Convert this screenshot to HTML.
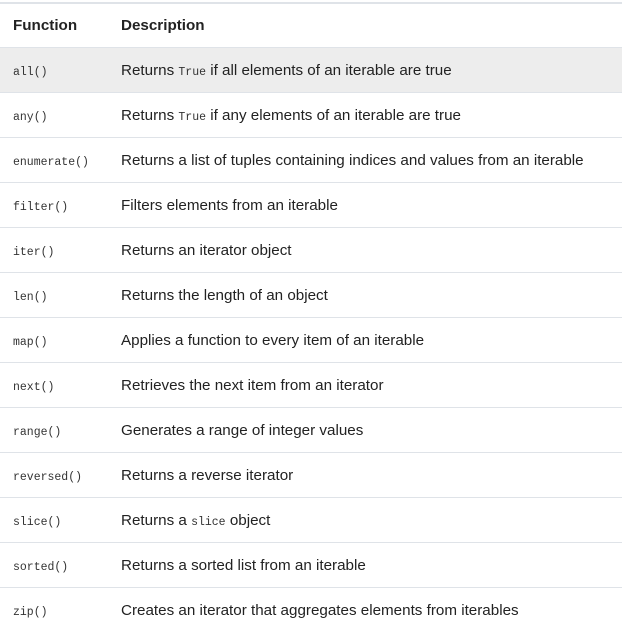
<!DOCTYPE html>
<html><head><style>
body{margin:0;background:#fff;width:628px;height:635px;overflow:hidden}
.t{position:absolute;left:0;top:2px;width:622px;border-top:2px solid #dfe3e8}
.r{position:relative;height:44px;border-bottom:1px solid #dfe3e8;font-family:"Liberation Sans",sans-serif;font-size:15.2px;color:#222;line-height:45px}
.r.h{font-weight:bold;height:43px;line-height:43px}
.r.g{background:#ededed}
.r:last-child{border-bottom:none}
.a{position:absolute;left:13px}
.b{position:absolute;left:121px;white-space:nowrap}
code{font-family:"Liberation Mono",monospace;font-size:11.5px;color:#333}
</style></head><body>
<div class="t">
<div class="r h"><span class="a">Function</span><span class="b">Description</span></div>
<div class="r g"><span class="a"><code>all()</code></span><span class="b">Returns <code>True</code> if all elements of an iterable are true</span></div>
<div class="r"><span class="a"><code>any()</code></span><span class="b">Returns <code>True</code> if any elements of an iterable are true</span></div>
<div class="r"><span class="a"><code>enumerate()</code></span><span class="b">Returns a list of tuples containing indices and values from an iterable</span></div>
<div class="r"><span class="a"><code>filter()</code></span><span class="b">Filters elements from an iterable</span></div>
<div class="r"><span class="a"><code>iter()</code></span><span class="b">Returns an iterator object</span></div>
<div class="r"><span class="a"><code>len()</code></span><span class="b">Returns the length of an object</span></div>
<div class="r"><span class="a"><code>map()</code></span><span class="b">Applies a function to every item of an iterable</span></div>
<div class="r"><span class="a"><code>next()</code></span><span class="b">Retrieves the next item from an iterator</span></div>
<div class="r"><span class="a"><code>range()</code></span><span class="b">Generates a range of integer values</span></div>
<div class="r"><span class="a"><code>reversed()</code></span><span class="b">Returns a reverse iterator</span></div>
<div class="r"><span class="a"><code>slice()</code></span><span class="b">Returns a <code>slice</code> object</span></div>
<div class="r"><span class="a"><code>sorted()</code></span><span class="b">Returns a sorted list from an iterable</span></div>
<div class="r"><span class="a"><code>zip()</code></span><span class="b">Creates an iterator that aggregates elements from iterables</span></div>
</div>
</body></html>
